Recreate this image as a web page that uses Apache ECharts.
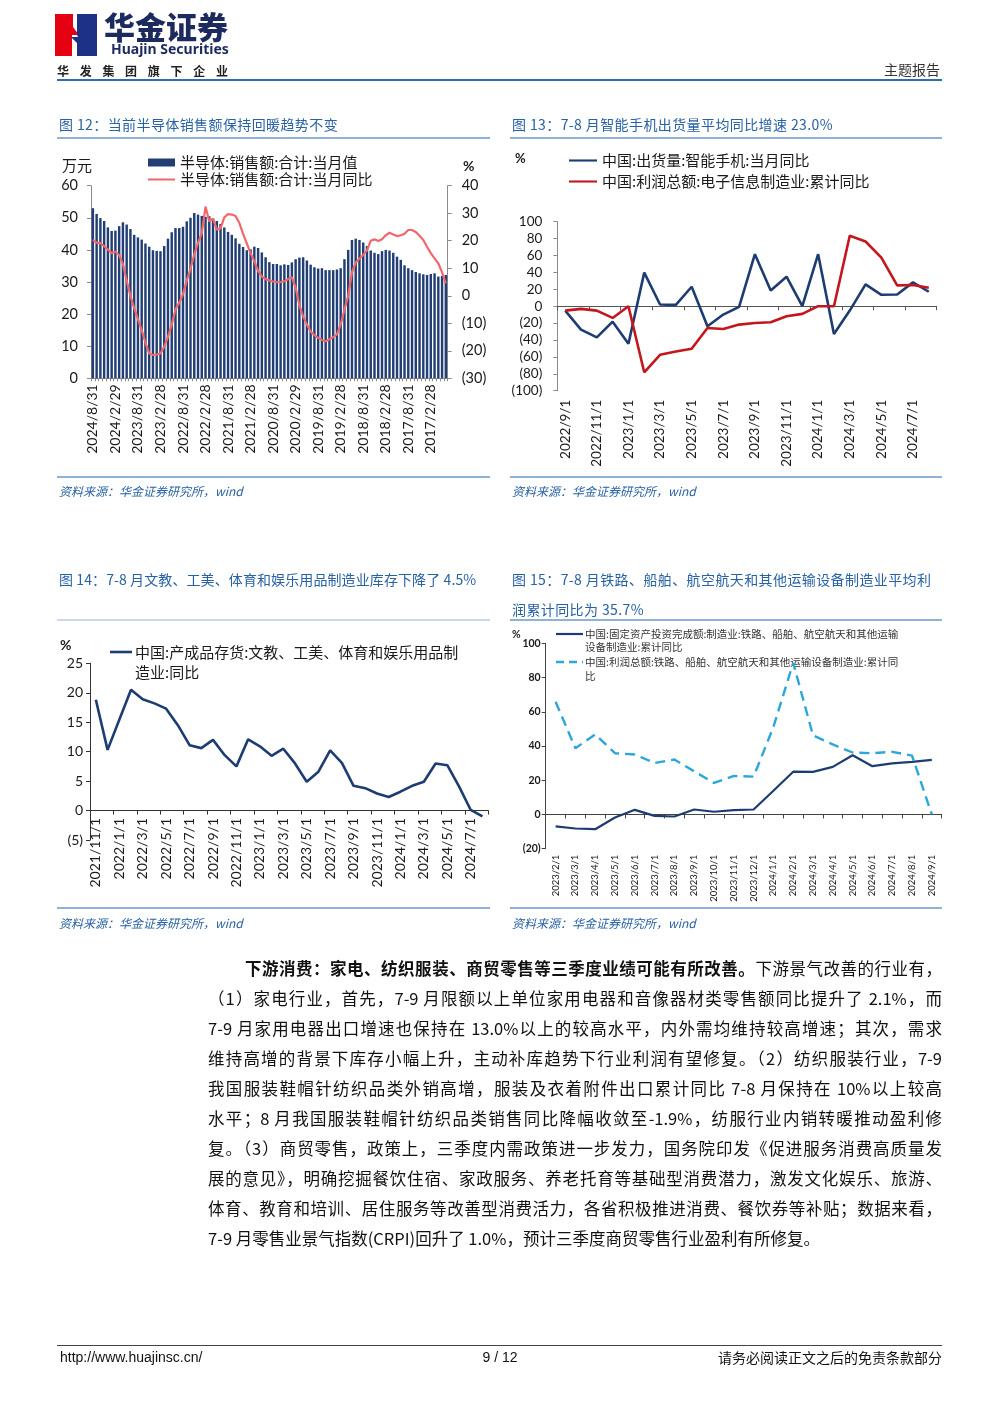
<!DOCTYPE html>
<html lang="zh-CN"><head><meta charset="utf-8">
<script src="https://cdn.jsdelivr.net/npm/echarts@6/dist/echarts.min.js"></script>
<style>
html,body{margin:0;padding:0;background:#fff;}
#page{position:relative;width:1000px;height:1413px;overflow:hidden;font-family:'Noto Sans CJK SC',sans-serif;}
#chart{position:absolute;left:0;top:0;width:1000px;height:1413px;z-index:1;}
.t{position:absolute;white-space:nowrap;z-index:2;}
.rule{position:absolute;z-index:2;}
.cap{font-size:14px;color:#2862A6;letter-spacing:0.4px;line-height:18px;}
.src{font-size:12px;color:#2862A6;font-style:italic;line-height:16px;}
.pl{position:absolute;z-index:2;height:30px;line-height:30px;font-size:16.5px;color:#111;text-align:justify;text-align-last:justify;}
</style></head>
<body><div id="page">
<div id="chart"></div>

<svg class="t" style="left:55px;top:14px" width="42" height="42" viewBox="0 0 42 42">
  <polygon points="0,0 18,0 18,13 24,21 17,21 17,42 0,42" fill="#E50012"/>
  <polygon points="22,0 42,0 42,42 22,42 22,29 16,23 23,23 22,21" fill="#1D3286"/>
</svg>
<div class="t" style="left:104px;top:7px;font-size:31px;font-weight:900;color:#1C2A5E;line-height:38px;">华金证券</div>
<div class="t" style="left:111px;top:40px;font-size:14px;font-weight:700;color:#1C2A5E;line-height:18px;font-family:'Noto Sans',sans-serif;">Huajin Securities</div>
<div class="t" style="left:57px;top:63px;font-size:12px;font-weight:700;color:#222;letter-spacing:10.7px;line-height:16px;">华发集团旗下企业</div>
<div class="t" style="left:884px;top:60px;font-size:14px;color:#333;line-height:18px;">主题报告</div>
<div class="rule" style="left:57px;top:79px;width:885px;height:2px;background:#2F6DB5;"></div>

<div class="t cap" style="left:59px;top:115px;">图 12：当前半导体销售额保持回暖趋势不变</div>
<div class="t cap" style="left:512px;top:115px;">图 13：7-8 月智能手机出货量平均同比增速 23.0%</div>
<div class="rule" style="left:57px;top:137px;width:433px;height:1.5px;background:#8FB2D8;"></div>
<div class="rule" style="left:510px;top:137px;width:432px;height:1.5px;background:#8FB2D8;"></div>
<div class="rule" style="left:57px;top:476px;width:433px;height:1.5px;background:#8FB2D8;"></div>
<div class="rule" style="left:510px;top:476px;width:432px;height:1.5px;background:#8FB2D8;"></div>
<div class="t src" style="left:59px;top:483px;">资料来源：华金证券研究所，wind</div>
<div class="t src" style="left:512px;top:483px;">资料来源：华金证券研究所，wind</div>

<div class="t cap" style="left:59px;top:570px;letter-spacing:0.1px;">图 14：7-8 月文教、工美、体育和娱乐用品制造业库存下降了 4.5%</div>
<div class="t cap" style="left:512px;top:570px;">图 15：7-8 月铁路、船舶、航空航天和其他运输设备制造业平均利</div>
<div class="t cap" style="left:512px;top:600px;">润累计同比为 35.7%</div>
<div class="rule" style="left:57px;top:619px;width:433px;height:1.5px;background:#C9DAEC;"></div>
<div class="rule" style="left:510px;top:619px;width:432px;height:1.5px;background:#8FB2D8;"></div>
<div class="rule" style="left:57px;top:907px;width:433px;height:1.5px;background:#8FB2D8;"></div>
<div class="rule" style="left:510px;top:907px;width:432px;height:1.5px;background:#8FB2D8;"></div>
<div class="t src" style="left:59px;top:915px;">资料来源：华金证券研究所，wind</div>
<div class="t src" style="left:512px;top:915px;">资料来源：华金证券研究所，wind</div>

<div class="pl" style="top:953px;left:245px;width:697px;"><b>下游消费：家电、纺织服装、商贸零售等三季度业绩可能有所改善。</b>下游景气改善的行业有，</div>
<div class="pl" style="top:983px;left:208px;width:734px;">（1）家电行业，首先，7-9 月限额以上单位家用电器和音像器材类零售额同比提升了 2.1%，而</div>
<div class="pl" style="top:1013px;left:208px;width:734px;">7-9 月家用电器出口增速也保持在 13.0%以上的较高水平，内外需均维持较高增速；其次，需求</div>
<div class="pl" style="top:1043px;left:208px;width:734px;">维持高增的背景下库存小幅上升，主动补库趋势下行业利润有望修复。（2）纺织服装行业，7-9</div>
<div class="pl" style="top:1073px;left:208px;width:734px;">我国服装鞋帽针纺织品类外销高增，服装及衣着附件出口累计同比 7-8 月保持在 10%以上较高</div>
<div class="pl" style="top:1103px;left:208px;width:734px;">水平；8 月我国服装鞋帽针纺织品类销售同比降幅收敛至-1.9%，纺服行业内销转暖推动盈利修</div>
<div class="pl" style="top:1133px;left:208px;width:734px;">复。（3）商贸零售，政策上，三季度内需政策进一步发力，国务院印发《促进服务消费高质量发</div>
<div class="pl" style="top:1163px;left:208px;width:734px;">展的意见》，明确挖掘餐饮住宿、家政服务、养老托育等基础型消费潜力，激发文化娱乐、旅游、</div>
<div class="pl" style="top:1193px;left:208px;width:734px;">体育、教育和培训、居住服务等改善型消费活力，各省积极推进消费、餐饮券等补贴；数据来看，</div>
<div class="pl" style="top:1223px;left:208px;width:734px;text-align:left;text-align-last:left;">7-9 月零售业景气指数(CRPI)回升了 1.0%，预计三季度商贸零售行业盈利有所修复。</div>

<div class="rule" style="left:57px;top:1345px;width:885px;height:1px;background:#444;"></div>
<div class="t" style="left:60px;top:1348px;font-size:14px;color:#111;line-height:18px;font-family:'Liberation Sans',sans-serif;">http://www.huajinsc.cn/</div>
<div class="t" style="left:470px;top:1348px;width:60px;text-align:center;font-size:14px;color:#111;line-height:18px;font-family:'Liberation Sans',sans-serif;">9 / 12</div>
<div class="t" style="right:58px;top:1348px;font-size:14px;color:#111;line-height:18px;">请务必阅读正文之后的免责条款部分</div>
</div>

<script>
// ---------- Figure 12: semiconductor sales ----------
const semiCats = [
 '2024/8/31','2024/7/31','2024/6/30','2024/5/31','2024/4/30','2024/3/31','2024/2/29','2024/1/31',
 '2023/12/31','2023/11/30','2023/10/31','2023/9/30','2023/8/31','2023/7/31','2023/6/30','2023/5/31','2023/4/30','2023/3/31','2023/2/28','2023/1/31',
 '2022/12/31','2022/11/30','2022/10/31','2022/9/30','2022/8/31','2022/7/31','2022/6/30','2022/5/31','2022/4/30','2022/3/31','2022/2/28','2022/1/31',
 '2021/12/31','2021/11/30','2021/10/31','2021/9/30','2021/8/31','2021/7/31','2021/6/30','2021/5/31','2021/4/30','2021/3/31','2021/2/28','2021/1/31',
 '2020/12/31','2020/11/30','2020/10/31','2020/9/30','2020/8/31','2020/7/31','2020/6/30','2020/5/31','2020/4/30','2020/3/31','2020/2/29','2020/1/31',
 '2019/12/31','2019/11/30','2019/10/31','2019/9/30','2019/8/31','2019/7/31','2019/6/30','2019/5/31','2019/4/30','2019/3/31','2019/2/28','2019/1/31',
 '2018/12/31','2018/11/30','2018/10/31','2018/9/30','2018/8/31','2018/7/31','2018/6/30','2018/5/31','2018/4/30','2018/3/31','2018/2/28','2018/1/31',
 '2017/12/31','2017/11/30','2017/10/31','2017/9/30','2017/8/31','2017/7/31','2017/6/30','2017/5/31','2017/4/30','2017/3/31','2017/2/28','2017/1/31',
 '2016/12/31','2016/11/30','2016/10/31'];
const semiSales = [53.0,51.2,49.9,49.0,47.0,45.9,46.0,47.4,48.6,47.9,
 46.5,44.7,43.9,43.2,42.0,41.0,39.9,39.7,39.6,41.2,
 43.5,45.5,46.8,46.8,47.2,48.9,50.0,51.5,51.0,50.6,
 50.3,50.5,49.8,49.0,48.1,47.0,45.6,44.7,43.6,41.9,
 40.9,39.9,40.2,41.0,40.6,39.2,37.7,36.2,35.6,35.6,
 35.2,35.5,35.3,36.1,37.1,37.6,37.7,36.7,35.4,34.6,
 34.2,34.3,33.7,33.7,33.7,33.9,34.3,37.1,40.0,43.1,
 43.5,43.1,42.3,41.2,39.8,39.1,38.7,39.6,40.0,39.8,
 39.1,37.9,36.9,35.2,34.3,33.7,33.1,32.7,32.4,32.2,
 32.5,32.7,31.7,31.9,32.2];
const semiYoY = [20.3,19.3,19.1,18.0,16.8,15.5,16.0,14.8,11.5,5.5,
 0.0,-4.5,-8.5,-12.5,-17.0,-21.0,-21.5,-21.4,-21.0,-18.5,
 -14.9,-10.5,-5.0,-2.5,0.5,5.5,9.8,15.0,19.2,22.7,
 32.4,27.0,28.0,24.0,24.5,28.5,29.7,29.5,29.0,26.5,
 22.5,19.0,15.5,12.5,9.0,7.0,6.0,5.6,5.2,4.9,
 5.0,5.3,6.0,6.7,3.0,-3.5,-7.5,-10.5,-13.0,-14.3,
 -15.3,-16.1,-16.5,-15.8,-15.0,-14.0,-10.5,-5.0,0.0,8.5,
 12.0,13.5,14.8,16.5,20.0,20.5,19.9,20.5,22.0,22.9,
 22.3,21.7,22.0,22.5,23.9,23.9,23.2,21.8,20.3,17.8,
 15.5,13.6,11.8,8.5,4.5];
const semiNames = ['半导体:销售额:合计:当月值','半导体:销售额:合计:当月同比'];

// ---------- Figure 13: smartphone shipments / electronics profit ----------
const phoneCats = ['2022/9/1','2022/10/1','2022/11/1','2022/12/1','2023/1/1','2023/2/1','2023/3/1','2023/4/1',
 '2023/5/1','2023/6/1','2023/7/1','2023/8/1','2023/9/1','2023/10/1','2023/11/1','2023/12/1',
 '2024/1/1','2024/2/1','2024/3/1','2024/4/1','2024/5/1','2024/6/1','2024/7/1','2024/8/1'];
const phoneShip = [-5.2,-27.8,-36.9,-18.3,-44.4,39.7,2.0,1.6,23.0,-23.8,-9.9,-0.8,61.5,18.7,34.9,0,61.5,-32.9,-5.2,25.8,13.5,13.9,28.2,17.1];
const elecProfit = [-5.2,-3.2,-5.2,-13.9,0,-78.2,-57.5,-53.6,-50.4,-25.8,-27.0,-21.8,-19.8,-19.0,-11.9,-9.1,0,0,83.3,76.6,57.5,24.6,25.0,21.8];
const phoneNames = ['中国:出货量:智能手机:当月同比','中国:利润总额:电子信息制造业:累计同比'];

// ---------- Figure 14: inventory, culture/sports goods ----------
const invCats = ['2021/11/1','2021/12/1','2022/1/1','2022/2/1','2022/3/1','2022/4/1','2022/5/1','2022/6/1','2022/7/1','2022/8/1',
 '2022/9/1','2022/10/1','2022/11/1','2022/12/1','2023/1/1','2023/2/1','2023/3/1','2023/4/1','2023/5/1','2023/6/1',
 '2023/7/1','2023/8/1','2023/9/1','2023/10/1','2023/11/1','2023/12/1','2024/1/1','2024/2/1','2024/3/1','2024/4/1',
 '2024/5/1','2024/6/1','2024/7/1','2024/8/1'];
const invYoY = [18.8,10.3,15.4,20.5,18.9,18.2,17.3,14.5,11.1,10.6,
 12.0,9.4,7.5,12.1,10.9,9.3,10.5,8.0,4.9,6.6,
 10.2,8.1,4.2,3.8,2.9,2.3,3.2,4.2,4.9,8.0,
 7.7,4.1,0.1,-1.0];
const invName = '中国:产成品存货:文教、工美、体育和娱乐用品制造业:同比';

// ---------- Figure 15: transport equipment ----------
const transCats = ['2023/2/1','2023/3/1','2023/4/1','2023/5/1','2023/6/1','2023/7/1','2023/8/1','2023/9/1','2023/10/1','2023/11/1',
 '2023/12/1','2024/1/1','2024/2/1','2024/3/1','2024/4/1','2024/5/1','2024/6/1','2024/7/1','2024/8/1','2024/9/1'];
const transInvest = [-7.0,-8.2,-8.6,-1.8,2.7,-0.8,-1.2,2.9,1.6,2.5,2.9,13.9,25.0,24.9,27.8,34.6,28.2,29.9,30.7,31.9];
const transProfit = [65.8,38.7,46.8,35.8,35.0,30.1,32.1,25.2,18.4,22.5,22.1,51.1,88.6,46.2,40.9,36.2,35.8,36.6,34.4,0];
const transNames = ['中国:固定资产投资完成额:制造业:铁路、船舶、航空航天和其他运输设备制造业:累计同比',
 '中国:利润总额:铁路、船舶、航空航天和其他运输设备制造业:累计同比'];

// ---------- styling ----------
const numFont = "Lato, 'Noto Sans CJK SC', sans-serif";
const cjkFont = "'Noto Sans CJK SC', sans-serif";
const txt = '#1a1a1a';
const NAVY = '#1D3D72';
const LINE_ICON = 'path://M0,0L40,0L40,3L0,3Z';
const fmtParen = v => v < 0 ? '(' + (-v) + ')' : String(v);

function yAx(grid, min, max, step, opts) {
  return Object.assign({
    gridIndex: grid, type: 'value', min: min, max: max, interval: step,
    axisLine: {show: true, lineStyle: {color: '#8a8a8a', width: 1}},
    axisTick: {show: true, length: 4, lineStyle: {color: '#8a8a8a'}},
    splitLine: {show: false},
    axisLabel: {formatter: fmtParen, color: txt, fontFamily: numFont, fontSize: 14, margin: 12}
  }, opts);
}

const chart = echarts.init(document.getElementById('chart'), null, {renderer: 'canvas'});
chart.setOption({
  animation: false,
  grid: [
    {left: 91, top: 185.7, width: 356.7, height: 192.6, outerBoundsMode: 'none'},
    {left: 557.3, top: 221.7, width: 379.4, height: 169, outerBoundsMode: 'none'},
    {left: 90, top: 663.3, width: 398.3, height: 176.7, outerBoundsMode: 'none'},
    {left: 545.7, top: 643.3, width: 396, height: 205.4, outerBoundsMode: 'none'}
  ],
  legend: [
    {data: [{name: semiNames[0], icon: 'rect'}, {name: semiNames[1], icon: LINE_ICON}], left: 148, top: 154, orient: 'vertical',
     itemWidth: 27, itemHeight: 8, itemGap: 0, padding: 0, selectedMode: false, symbolKeepAspect: true,
     textStyle: {fontSize: 15, lineHeight: 17, color: txt, fontFamily: cjkFont}},
    {data: [{name: phoneNames[0], icon: LINE_ICON}, {name: phoneNames[1], icon: LINE_ICON}], left: 569, top: 152, orient: 'vertical',
     itemWidth: 28, itemHeight: 10, itemGap: 4, padding: 0, symbolKeepAspect: true,
     selectedMode: false, textStyle: {fontSize: 15, lineHeight: 17, color: txt, fontFamily: cjkFont}}
  ],
  xAxis: [
    {gridIndex: 0, type: 'category', data: semiCats, position: 'bottom',
     axisLine: {lineStyle: {color: '#8a8a8a', width: 1}},
     axisTick: {show: true, interval: 0, length: 3, lineStyle: {color: '#8a8a8a'}},
     axisLabel: {interval: 5, rotate: 90, fontSize: 14, color: txt, fontFamily: numFont, margin: 6}},
    {gridIndex: 1, type: 'category', data: phoneCats, position: 'bottom',
     axisLine: {show: false, onZero: false}, axisTick: {show: false},
     axisLabel: {interval: 1, rotate: 90, fontSize: 13.5, color: txt, fontFamily: numFont, margin: 9}},
    {gridIndex: 1, type: 'category', data: phoneCats, position: 'top',
     axisLine: {show: true, onZero: true, lineStyle: {color: '#555', width: 1}},
     axisTick: {show: true, interval: 1, inside: true, length: 4, lineStyle: {color: '#555'}},
     axisLabel: {show: false}},
    {gridIndex: 2, type: 'category', data: invCats, position: 'bottom',
     axisLine: {onZero: true, lineStyle: {color: '#333', width: 1}},
     axisTick: {show: true, interval: 1, length: 4, lineStyle: {color: '#333'}},
     axisLabel: {interval: 1, rotate: 90, fontSize: 14, color: txt, fontFamily: numFont, margin: -22}},
    {gridIndex: 3, type: 'category', data: transCats, position: 'bottom',
     axisLine: {show: false, onZero: false}, axisTick: {show: false},
     axisLabel: {interval: 0, rotate: 90, fontSize: 9.5, color: txt, fontFamily: numFont, margin: 6}},
    {gridIndex: 3, type: 'category', data: transCats, position: 'top',
     axisLine: {show: true, onZero: true, lineStyle: {color: '#444', width: 1}},
     axisTick: {show: true, interval: 0, inside: true, length: 4, lineStyle: {color: '#444'}},
     axisLabel: {show: false}}
  ],
  yAxis: [
    yAx(0, 0, 60, 10, {position: 'left', axisLabel: {formatter: fmtParen, color: txt, fontFamily: numFont, fontSize: 14.5, margin: 13}}),
    yAx(0, -30, 40, 10, {position: 'right', axisLabel: {formatter: fmtParen, color: txt, fontFamily: numFont, fontSize: 14.5, margin: 14}}),
    yAx(1, -100, 100, 20, {position: 'left', axisLabel: {formatter: fmtParen, color: txt, fontFamily: numFont, fontSize: 13.5, margin: 15}}),
    yAx(2, -5, 25, 5, {position: 'left', axisLine: {show: true, lineStyle: {color: '#333'}}, axisTick: {show: true, length: 4, lineStyle: {color: '#333'}},
      axisLabel: {formatter: fmtParen, color: txt, fontFamily: numFont, fontSize: 14, margin: 7}}),
    yAx(3, -20, 100, 20, {position: 'left', axisLine: {show: true, lineStyle: {color: '#444'}}, axisTick: {show: true, length: 4, lineStyle: {color: '#444'}},
      axisLabel: {formatter: fmtParen, color: txt, fontFamily: numFont, fontSize: 10.5, fontWeight: 'bold', margin: 5}})
  ],
  series: [
    {name: semiNames[0], type: 'bar', xAxisIndex: 0, yAxisIndex: 0, data: semiSales,
     barCategoryGap: '35%', itemStyle: {color: '#213F74'}},
    {name: semiNames[1], type: 'line', xAxisIndex: 0, yAxisIndex: 1, data: semiYoY, symbol: 'none', z: 3,
     lineStyle: {color: '#F2686A', width: 2.2}, itemStyle: {color: '#F2686A'}},
    {name: phoneNames[0], type: 'line', xAxisIndex: 1, yAxisIndex: 2, data: phoneShip, symbol: 'none',
     lineStyle: {color: NAVY, width: 2.6}, itemStyle: {color: NAVY}},
    {name: phoneNames[1], type: 'line', xAxisIndex: 1, yAxisIndex: 2, data: elecProfit, symbol: 'none',
     lineStyle: {color: '#C3161D', width: 2.6}, itemStyle: {color: '#C3161D'}},
    {name: invName, type: 'line', xAxisIndex: 3, yAxisIndex: 3, data: invYoY, symbol: 'none',
     lineStyle: {color: NAVY, width: 2.6}, itemStyle: {color: NAVY}},
    {name: transNames[0], type: 'line', xAxisIndex: 4, yAxisIndex: 4, data: transInvest, symbol: 'none',
     lineStyle: {color: NAVY, width: 2.2}, itemStyle: {color: NAVY}},
    {name: transNames[1], type: 'line', xAxisIndex: 4, yAxisIndex: 4, data: transProfit, symbol: 'none',
     lineStyle: {color: '#2BA7DA', width: 2.4, type: [10, 6]}, itemStyle: {color: '#2BA7DA'}}
  ],
  graphic: [
    {type: 'text', x: 62, y: 165, style: {text: '万元', fontSize: 15, fontFamily: cjkFont, fill: txt, verticalAlign: 'middle'}},
    {type: 'text', x: 463, y: 166, style: {text: '%', fontSize: 14, fontWeight: 'bold', fontFamily: numFont, fill: txt, verticalAlign: 'middle'}},
    {type: 'text', x: 515, y: 159, style: {text: '%', fontSize: 13, fontWeight: 'bold', fontFamily: numFont, fill: txt, verticalAlign: 'middle'}},
    {type: 'text', x: 60, y: 645, style: {text: '%', fontSize: 14, fontWeight: 'bold', fontFamily: numFont, fill: txt, verticalAlign: 'middle'}},
    {type: 'text', x: 512, y: 635, style: {text: '%', fontSize: 10.5, fontWeight: 'bold', fontFamily: numFont, fill: txt, verticalAlign: 'middle'}},
    // legend of figure 14
    {type: 'line', shape: {x1: 110, y1: 652, x2: 132, y2: 652}, style: {stroke: NAVY, lineWidth: 2.6}},
    {type: 'text', x: 135, y: 652, style: {text: '中国:产成品存货:文教、工美、体育和娱乐用品制', fontSize: 15, fontFamily: cjkFont, fill: txt, verticalAlign: 'middle'}},
    {type: 'text', x: 135, y: 672, style: {text: '造业:同比', fontSize: 15, fontFamily: cjkFont, fill: txt, verticalAlign: 'middle'}},
    // legend of figure 15
    {type: 'line', shape: {x1: 556, y1: 634, x2: 583, y2: 634}, style: {stroke: NAVY, lineWidth: 2.2}},
    {type: 'text', x: 585, y: 634, style: {text: '中国:固定资产投资完成额:制造业:铁路、船舶、航空航天和其他运输', fontSize: 10.5, fontFamily: cjkFont, fill: '#333', verticalAlign: 'middle'}},
    {type: 'text', x: 585, y: 647, style: {text: '设备制造业:累计同比', fontSize: 10.5, fontFamily: cjkFont, fill: '#333', verticalAlign: 'middle'}},
    {type: 'line', shape: {x1: 556, y1: 662, x2: 583, y2: 662}, style: {stroke: '#2BA7DA', lineWidth: 2.4, lineDash: [8, 5]}},
    {type: 'text', x: 585, y: 662, style: {text: '中国:利润总额:铁路、船舶、航空航天和其他运输设备制造业:累计同', fontSize: 10.5, fontFamily: cjkFont, fill: '#333', verticalAlign: 'middle'}},
    {type: 'text', x: 585, y: 676, style: {text: '比', fontSize: 10.5, fontFamily: cjkFont, fill: '#333', verticalAlign: 'middle'}}
  ]
});
</script>
</body></html>
